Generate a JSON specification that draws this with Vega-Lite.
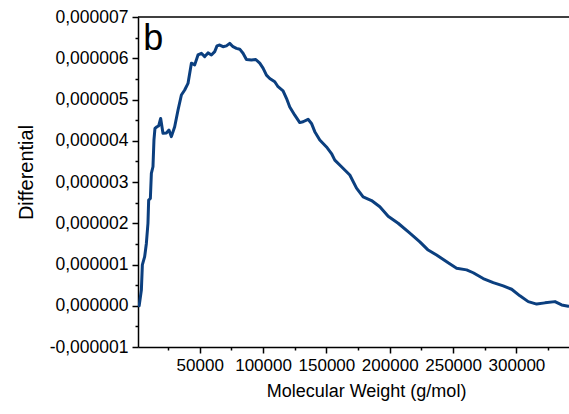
{
  "$schema": "https://vega.github.io/schema/vega-lite/v6.json",
  "width": 431,
  "height": 330,
  "autosize": "none",
  "padding": {"left": 138, "top": 17, "right": 0, "bottom": 67},
  "background": "white",
  "config": {
    "view": {"stroke": null},
    "font": "Liberation Sans",
    "axis": {
      "grid": false,
      "domainColor": "#000000",
      "domainWidth": 1.5,
      "tickColor": "#000000",
      "tickWidth": 1.5,
      "labelColor": "#000000",
      "titleColor": "#000000",
      "labelFont": "Liberation Sans",
      "titleFont": "Liberation Sans",
      "titleFontWeight": "normal",
      "labelOverlap": false
    }
  },
  "data": {
    "values": [
      {"mw": 2212, "diff": 0.0},
      {"mw": 3950, "diff": 0.00000038},
      {"mw": 4740, "diff": 0.00000099},
      {"mw": 6556, "diff": 0.00000119},
      {"mw": 7899, "diff": 0.00000151},
      {"mw": 9163, "diff": 0.000002},
      {"mw": 9716, "diff": 0.00000256},
      {"mw": 11059, "diff": 0.0000026},
      {"mw": 11849, "diff": 0.00000321},
      {"mw": 13112, "diff": 0.00000337},
      {"mw": 13900, "diff": 0.00000402},
      {"mw": 14690, "diff": 0.0000043},
      {"mw": 16272, "diff": 0.00000434},
      {"mw": 17615, "diff": 0.00000436},
      {"mw": 19195, "diff": 0.00000454},
      {"mw": 21011, "diff": 0.00000418},
      {"mw": 23697, "diff": 0.00000419},
      {"mw": 25751, "diff": 0.00000426},
      {"mw": 27646, "diff": 0.0000041},
      {"mw": 30253, "diff": 0.00000434},
      {"mw": 32860, "diff": 0.00000474},
      {"mw": 35546, "diff": 0.00000511},
      {"mw": 38153, "diff": 0.00000523},
      {"mw": 40759, "diff": 0.00000539},
      {"mw": 43445, "diff": 0.00000588},
      {"mw": 46052, "diff": 0.00000584},
      {"mw": 48659, "diff": 0.00000608},
      {"mw": 51344, "diff": 0.00000612},
      {"mw": 53951, "diff": 0.00000604},
      {"mw": 56558, "diff": 0.00000613},
      {"mw": 59243, "diff": 0.00000608},
      {"mw": 61850, "diff": 0.00000616},
      {"mw": 63667, "diff": 0.0000063},
      {"mw": 65800, "diff": 0.00000632},
      {"mw": 68407, "diff": 0.00000628},
      {"mw": 71093, "diff": 0.0000063},
      {"mw": 73700, "diff": 0.00000636},
      {"mw": 76306, "diff": 0.00000628},
      {"mw": 78992, "diff": 0.00000624},
      {"mw": 81599, "diff": 0.00000622},
      {"mw": 84205, "diff": 0.00000612},
      {"mw": 86891, "diff": 0.00000597},
      {"mw": 90841, "diff": 0.00000596},
      {"mw": 94237, "diff": 0.00000597},
      {"mw": 97397, "diff": 0.00000588},
      {"mw": 100003, "diff": 0.00000576},
      {"mw": 102689, "diff": 0.00000559},
      {"mw": 105296, "diff": 0.00000551},
      {"mw": 109245, "diff": 0.00000543},
      {"mw": 111852, "diff": 0.00000531},
      {"mw": 115801, "diff": 0.00000521},
      {"mw": 118487, "diff": 0.00000503},
      {"mw": 121094, "diff": 0.00000482},
      {"mw": 125043, "diff": 0.00000462},
      {"mw": 128993, "diff": 0.00000444},
      {"mw": 131599, "diff": 0.00000446},
      {"mw": 135549, "diff": 0.00000452},
      {"mw": 138235, "diff": 0.00000442},
      {"mw": 140841, "diff": 0.00000422},
      {"mw": 144791, "diff": 0.00000402},
      {"mw": 150083, "diff": 0.00000385},
      {"mw": 154033, "diff": 0.00000369},
      {"mw": 156640, "diff": 0.00000353},
      {"mw": 161932, "diff": 0.00000337},
      {"mw": 168488, "diff": 0.00000317},
      {"mw": 173780, "diff": 0.00000285},
      {"mw": 178994, "diff": 0.00000264},
      {"mw": 185629, "diff": 0.00000255},
      {"mw": 192186, "diff": 0.0000024},
      {"mw": 198742, "diff": 0.00000217},
      {"mw": 206641, "diff": 0.000002},
      {"mw": 215883, "diff": 0.00000176},
      {"mw": 223782, "diff": 0.00000155},
      {"mw": 230339, "diff": 0.00000135},
      {"mw": 236974, "diff": 0.00000123},
      {"mw": 246137, "diff": 0.00000104},
      {"mw": 252772, "diff": 0.00000091},
      {"mw": 260671, "diff": 0.00000087},
      {"mw": 265885, "diff": 0.0000008},
      {"mw": 273784, "diff": 0.00000066},
      {"mw": 281683, "diff": 0.00000056},
      {"mw": 289582, "diff": 0.00000048},
      {"mw": 296217, "diff": 0.0000004},
      {"mw": 302774, "diff": 0.00000024},
      {"mw": 309330, "diff": 0.0000001},
      {"mw": 315966, "diff": 0.00000004},
      {"mw": 322522, "diff": 0.00000007},
      {"mw": 330421, "diff": 0.0000001},
      {"mw": 335713, "diff": 0.00000002},
      {"mw": 340927, "diff": -0.00000001}
    ]
  },
  "layer": [
    {
      "mark": {"type": "line", "color": "#0b3f7f", "strokeWidth": 3, "strokeJoin": "round", "strokeCap": "round", "clip": true},
      "encoding": {
        "x": {
          "field": "mw", "type": "quantitative",
          "scale": {"domain": [1300, 341500], "nice": false, "zero": false},
          "axis": {
            "values": [25000, 50000, 75000, 100000, 125000, 150000, 175000, 200000, 225000, 250000, 275000, 300000, 325000],
            "labelExpr": "abs(round(datum.value / 50000) - datum.value / 50000) < 0.01 ? format(datum.value, 'd') : ''",
            "tickSize": {"condition": {"test": "abs(round(datum.value / 50000) - datum.value / 50000) < 0.01", "value": 6}, "value": 3},
            "labelPadding": 4,
            "labelFontSize": 17,
            "title": "Molecular Weight (g/mol)",
            "titleFontSize": 18,
            "titleX": 228,
            "titleY": 49,
            "titleAlign": "center",
            "titleBaseline": "alphabetic"
          }
        },
        "y": {
          "field": "diff", "type": "quantitative",
          "scale": {"domain": [-0.000001, 0.000007], "nice": false, "zero": false},
          "axis": {
            "values": [-0.000001, -0.0000005, 0, 0.0000005, 0.000001, 0.0000015, 0.000002, 0.0000025, 0.000003, 0.0000035, 0.000004, 0.0000045, 0.000005, 0.0000055, 0.000006, 0.0000065, 0.000007],
            "labelExpr": "abs(round(datum.value * 1000000) - datum.value * 1000000) < 0.01 ? replace(replace(format(datum.value, '.6f'), '.', ','), '\u2212', '-') : ''",
            "tickSize": {"condition": {"test": "abs(round(datum.value * 1000000) - datum.value * 1000000) < 0.01", "value": 6}, "value": 3},
            "labelPadding": 4,
            "labelFontSize": 17.5,
            "title": "Differential",
            "titleFontSize": 20,
            "titleAngle": -90,
            "titleX": -106,
            "titleY": 155,
            "titleAlign": "center",
            "titleBaseline": "alphabetic"
          }
        }
      }
    },
    {
      "data": {"values": [{"top": 0.000007}]},
      "mark": {"type": "rule", "color": "#000000", "strokeWidth": 1.5},
      "encoding": {
        "y": {"field": "top", "type": "quantitative", "axis": null}
      }
    },
    {
      "data": {"values": [{"mw": 5450, "diff": 0.0000062, "label": "b"}]},
      "mark": {"type": "text", "fontSize": 36, "align": "left", "baseline": "alphabetic", "color": "#000000", "font": "Liberation Sans"},
      "encoding": {
        "x": {"field": "mw", "type": "quantitative", "axis": null},
        "y": {"field": "diff", "type": "quantitative", "axis": null},
        "text": {"field": "label"}
      }
    }
  ],
  "resolve": {"axis": {"x": "independent", "y": "independent"}}
}
